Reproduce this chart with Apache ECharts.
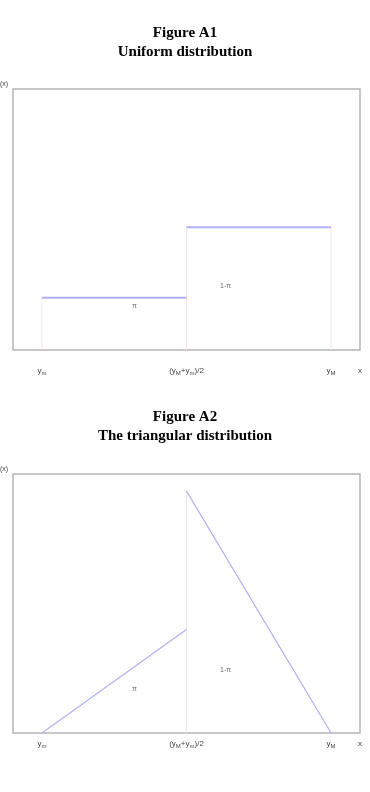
<!DOCTYPE html>
<html>
<head>
<meta charset="utf-8">
<script src="https://cdn.jsdelivr.net/npm/echarts@6/dist/echarts.min.js"></script>
<style>
  html, body { margin: 0; padding: 0; background: #fff; }
  #chart { width: 370px; height: 792px; }
</style>
</head>
<body>
<div id="chart"></div>
<script>
// x positions: y_m = 0, (y_M+y_m)/2 = 1, y_M = 2, axis end "x" = 2.2
var xTicks = [0, 1, 2, 2.2];
var xTickLabels = ['{n|y}{s|m}', '{n|(y}{s|M}{n|+y}{s|m}{n|)/2}', '{n|y}{s|M}', '{n|x}'];

// Figure A1: uniform (step) density
var uniformLow = [[0, 0.2], [1, 0.2]];
var uniformHigh = [[1, 0.47], [2, 0.47]];
var uniformGuides = [
  [[0, 0], [0, 0.2]],
  [[1, 0], [1, 0.47]],
  [[2, 0], [2, 0.47]]
];
var uniformNotes = [[0.64, 0.17, 'π'], [1.27, 0.245, '1-π']];

// Figure A2: triangular density
var triLeft = [[0, 0], [1, 0.4]];
var triRight = [[1, 0.934], [2, 0]];
var triGuides = [
  [[1, 0], [1, 0.934]]
];
var triNotes = [[0.64, 0.17, 'π'], [1.27, 0.243, '1-π']];

var yName = 'f(x)';

var blue = '#b0b0f2';
var pink = '#f7e3ec';

var chart = echarts.init(document.getElementById('chart'));

function xAxisFor(gridIndex, margin) {
  return {
    type: 'value', gridIndex: gridIndex, min: -0.2, max: 2.2,
    axisLine: { show: false }, axisTick: { show: false }, splitLine: { show: false },
    axisLabel: {
      customValues: xTicks,
      margin: margin,
      formatter: function (v) {
        for (var i = 0; i < xTicks.length; i++) {
          if (Math.abs(xTicks[i] - v) < 1e-6) return xTickLabels[i];
        }
        return '';
      },
      rich: {
        n: { fontFamily: 'Liberation Sans', fontSize: 8, color: '#444', lineHeight: 10 },
        s: { fontFamily: 'Liberation Sans', fontSize: 6, color: '#444', lineHeight: 10, verticalAlign: 'bottom', padding: [3, 0, 0, 0] }
      }
    }
  };
}

function yAxisFor(gridIndex) {
  return {
    type: 'value', gridIndex: gridIndex, min: 0, max: 1,
    axisLine: { show: false }, axisTick: { show: false }, splitLine: { show: false },
    axisLabel: { show: false }
  };
}

function lineSeries(data, idx, color, width) {
  return {
    type: 'line', xAxisIndex: idx, yAxisIndex: idx, data: data,
    symbol: 'none', silent: true, animation: false,
    lineStyle: { color: color, width: width }
  };
}

function noteSeries(notes, idx) {
  return {
    type: 'scatter', xAxisIndex: idx, yAxisIndex: idx, symbolSize: 0, silent: true,
    data: notes.map(function (n) { return { value: [n[0], n[1]], name: n[2] }; }),
    label: {
      show: true, position: 'inside', formatter: '{b}',
      fontFamily: 'Liberation Sans', fontSize: 7, color: '#444'
    }
  };
}

function yNameText(top) {
  return {
    type: 'text', left: -2, top: top, silent: true,
    style: { text: yName, font: '7px "Liberation Sans"', fill: '#444' }
  };
}

var series = [];
uniformGuides.forEach(function (g) { series.push(lineSeries(g, 0, pink, 1)); });
series.push(lineSeries(uniformLow, 0, blue, 2));
series.push(lineSeries(uniformHigh, 0, blue, 2));
series.push(noteSeries(uniformNotes, 0));
triGuides.forEach(function (g) { series.push(lineSeries(g, 1, pink, 1)); });
series.push(lineSeries(triLeft, 1, blue, 1.2));
series.push(lineSeries(triRight, 1, blue, 1.2));
series.push(noteSeries(triNotes, 1));

chart.setOption({
  animation: false,
  title: [{
    text: 'Figure A1\nUniform distribution',
    left: 'center', top: 19,
    textStyle: { fontFamily: 'Liberation Serif', fontWeight: 'bold', fontSize: 15, lineHeight: 19, color: '#000' }
  }, {
    text: 'Figure A2\nThe triangular distribution',
    left: 'center', top: 403,
    textStyle: { fontFamily: 'Liberation Serif', fontWeight: 'bold', fontSize: 15, lineHeight: 19, color: '#000' }
  }],
  graphic: [yNameText(81), yNameText(466)],
  grid: [
    { left: 13, top: 89, width: 347, height: 261, show: true, borderColor: '#b5b5b5', borderWidth: 1.5 },
    { left: 13, top: 474, width: 347, height: 259, show: true, borderColor: '#b5b5b5', borderWidth: 1.5 }
  ],
  xAxis: [xAxisFor(0, 16), xAxisFor(1, 6)],
  yAxis: [yAxisFor(0), yAxisFor(1)],
  series: series
});
</script>
</body>
</html>
